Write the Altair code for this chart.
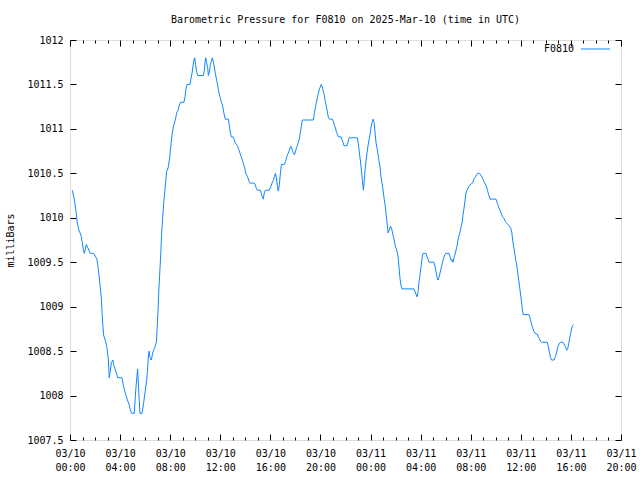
import altair as alt
import pandas as pd

# minutes since 2025-03-10 00:00 UTC
minutes = [11, 21, 29, 35, 43, 53, 59, 64, 69, 78, 86, 97, 114, 123, 129, 134, 140, 145, 150, 153,
           157, 161, 169, 177, 184, 188, 193, 198, 205, 210, 217, 229, 249, 257, 265, 275, 283, 289,
           296, 308, 315, 320, 324, 329, 335, 345, 353, 359, 366, 371, 375, 379, 383, 390, 396, 406,
           414, 417, 422, 426, 435, 439, 444, 449, 454, 459, 463, 470, 476, 481, 485, 490, 495, 502,
           507, 511, 518, 524, 530, 546, 551, 556, 561, 575, 580, 585, 589, 594, 598, 602, 607, 612,
           639, 644, 647, 650, 655, 660, 663, 668, 672, 677, 682, 687, 691, 696, 701, 706, 711, 716,
           720, 725, 730, 735, 739, 744, 759, 763, 768, 773, 782, 787, 792, 799, 804, 808, 813, 818,
           823, 828, 832, 837, 842, 847, 851, 858, 862, 882, 888, 893, 898, 912, 917, 922, 926, 931,
           936, 955, 962, 968, 974, 979, 984, 989, 994, 998, 1003, 1008, 1013, 1027, 1032, 1036, 1041,
           1046, 1051, 1056, 1060, 1065, 1070, 1075, 1080, 1084, 1089, 1094, 1099, 1103, 1108, 1113,
           1166, 1171, 1175, 1180, 1185, 1190, 1195, 1199, 1204, 1209, 1214, 1219, 1223, 1228, 1233,
           1238, 1243, 1257, 1262, 1267, 1272, 1276, 1281, 1286, 1299, 1303, 1308, 1313, 1327, 1332,
           1337, 1377, 1381, 1386, 1391, 1396, 1401, 1406, 1409, 1414, 1419, 1423, 1428, 1433, 1438,
           1442, 1447, 1452, 1457, 1462, 1466, 1471, 1476, 1481, 1486, 1490, 1495, 1500, 1505, 1510,
           1514, 1519, 1524, 1529, 1534, 1538, 1543, 1548, 1553, 1558, 1562, 1567, 1572, 1577, 1581,
           1586, 1590, 1648, 1653, 1658, 1663, 1668, 1672, 1677, 1682, 1687, 1692, 1706, 1711, 1720,
           1744, 1749, 1754, 1759, 1763, 1768, 1773, 1778, 1783, 1787, 1792, 1797, 1802, 1816, 1821,
           1826, 1831, 1835, 1840, 1845, 1850, 1855, 1859, 1864, 1869, 1874, 1879, 1883, 1888, 1893,
           1898, 1904, 1911, 1917, 1923, 1930, 1936, 1943, 1949, 1955, 1962, 1968, 1974, 1981, 1987,
           1994, 2000, 2006, 2013, 2041, 2048, 2054, 2061, 2067, 2073, 2080, 2086, 2093, 2099, 2105,
           2112, 2117, 2121, 2126, 2131, 2136, 2141, 2145, 2150, 2156, 2161, 2166, 2171, 2200, 2204,
           2209, 2214, 2219, 2223, 2228, 2239, 2244, 2249, 2254, 2259, 2287, 2292, 2297, 2302, 2307,
           2319, 2326, 2332, 2338, 2345, 2351, 2361, 2367, 2374, 2380, 2385, 2390, 2394, 2399, 2404,
           2409, 2412]

pressure = [1010.31, 1010.2, 1010.07, 1009.94, 1009.86, 1009.8, 1009.72, 1009.64, 1009.6, 1009.7,
            1009.66, 1009.6, 1009.6, 1009.56, 1009.53, 1009.45, 1009.33, 1009.22, 1009.1, 1008.96,
            1008.8, 1008.68, 1008.62, 1008.54, 1008.4, 1008.2, 1008.27, 1008.37, 1008.4, 1008.34,
            1008.29, 1008.2, 1008.2, 1008.1, 1008.03, 1007.95, 1007.9, 1007.84, 1007.8, 1007.8,
            1008.06, 1008.2, 1008.3, 1008.06, 1007.8, 1007.8, 1007.92, 1008.03, 1008.14, 1008.27,
            1008.42, 1008.5, 1008.43, 1008.4, 1008.48, 1008.54, 1008.6, 1008.74, 1008.96, 1009.2,
            1009.6, 1009.82, 1010.0, 1010.17, 1010.29, 1010.42, 1010.52, 1010.56, 1010.65, 1010.76,
            1010.85, 1010.95, 1011.02, 1011.08, 1011.13, 1011.18, 1011.21, 1011.27, 1011.3, 1011.3,
            1011.36, 1011.46, 1011.5, 1011.5, 1011.57, 1011.63, 1011.7, 1011.78, 1011.8, 1011.72,
            1011.64, 1011.6, 1011.6, 1011.66, 1011.75, 1011.8, 1011.74, 1011.68, 1011.6, 1011.64,
            1011.72, 1011.76, 1011.8, 1011.75, 1011.7, 1011.63, 1011.57, 1011.51, 1011.44, 1011.38,
            1011.35, 1011.3, 1011.27, 1011.21, 1011.16, 1011.11, 1011.11, 1011.04, 1010.96, 1010.91,
            1010.91, 1010.88, 1010.84, 1010.82, 1010.8, 1010.77, 1010.74, 1010.7, 1010.67, 1010.63,
            1010.6, 1010.56, 1010.5, 1010.48, 1010.46, 1010.41, 1010.39, 1010.39, 1010.37, 1010.33,
            1010.31, 1010.31, 1010.27, 1010.23, 1010.21, 1010.28, 1010.31, 1010.31, 1010.35, 1010.39,
            1010.42, 1010.46, 1010.5, 1010.45, 1010.35, 1010.3, 1010.37, 1010.5, 1010.6, 1010.6,
            1010.63, 1010.66, 1010.7, 1010.73, 1010.76, 1010.8, 1010.8, 1010.76, 1010.73, 1010.71,
            1010.74, 1010.78, 1010.81, 1010.85, 1010.89, 1010.95, 1011.02, 1011.1, 1011.1, 1011.18,
            1011.23, 1011.29, 1011.35, 1011.4, 1011.45, 1011.47, 1011.5, 1011.47, 1011.42, 1011.37,
            1011.31, 1011.26, 1011.19, 1011.13, 1011.11, 1011.11, 1011.08, 1011.04, 1011.01, 1010.97,
            1010.94, 1010.91, 1010.91, 1010.88, 1010.85, 1010.81, 1010.81, 1010.85, 1010.9, 1010.9,
            1010.84, 1010.74, 1010.65, 1010.54, 1010.42, 1010.31, 1010.39, 1010.54, 1010.65, 1010.73,
            1010.81, 1010.88, 1010.95, 1011.01, 1011.07, 1011.11, 1011.07, 1010.95, 1010.85, 1010.78,
            1010.71, 1010.63, 1010.56, 1010.46, 1010.39, 1010.31, 1010.22, 1010.14, 1010.05, 1009.95,
            1009.83, 1009.86, 1009.9, 1009.9, 1009.86, 1009.8, 1009.75, 1009.69, 1009.66, 1009.62,
            1009.56, 1009.43, 1009.32, 1009.24, 1009.2, 1009.2, 1009.17, 1009.14, 1009.11, 1009.17,
            1009.27, 1009.36, 1009.45, 1009.55, 1009.6, 1009.6, 1009.56, 1009.5, 1009.5, 1009.45,
            1009.39, 1009.33, 1009.3, 1009.33, 1009.38, 1009.43, 1009.48, 1009.52, 1009.56, 1009.59,
            1009.6, 1009.6, 1009.56, 1009.52, 1009.53, 1009.5, 1009.55, 1009.59, 1009.64, 1009.69,
            1009.75, 1009.8, 1009.84, 1009.9, 1009.95, 1010.03, 1010.11, 1010.2, 1010.29, 1010.32,
            1010.35, 1010.37, 1010.38, 1010.4, 1010.44, 1010.46, 1010.49, 1010.5, 1010.5, 1010.48,
            1010.46, 1010.42, 1010.39, 1010.36, 1010.31, 1010.26, 1010.21, 1010.21, 1010.16, 1010.12,
            1010.08, 1010.04, 1010.01, 1009.99, 1009.96, 1009.94, 1009.92, 1009.91, 1009.88, 1009.83,
            1009.75, 1009.67, 1009.6, 1009.52, 1009.46, 1009.38, 1009.3, 1009.19, 1009.1, 1009.0,
            1008.91, 1008.91, 1008.87, 1008.83, 1008.78, 1008.75, 1008.72, 1008.7, 1008.69, 1008.66,
            1008.64, 1008.61, 1008.6, 1008.6, 1008.55, 1008.49, 1008.43, 1008.4, 1008.4, 1008.44,
            1008.49, 1008.55, 1008.59, 1008.6, 1008.6, 1008.58, 1008.55, 1008.51, 1008.53, 1008.59,
            1008.65, 1008.7, 1008.76, 1008.79, 1008.8]

station = "F0810"
title_text = "Barometric Pressure for F0810 on 2025-Mar-10 (time in UTC)"
y_title = "milliBars"

x_major = list(range(0, 2641, 240))
x_minor = [m for m in range(0, 2641, 60) if m % 240 != 0]
y_major = [1007.5 + 0.5 * i for i in range(10)]

FONT = "DejaVu Sans Mono"
LINE_COLOR = "#0f87ff"

df = pd.DataFrame({"minutes": minutes, "pressure": pressure, "station": station})
key_df = pd.DataFrame({"station": [station]})

x_scale = alt.Scale(domain=[0, 2640], nice=False, zero=False)
y_scale = alt.Scale(domain=[1007.5, 1012], nice=False, zero=False)
color_scale = alt.Scale(domain=[station], range=[LINE_COLOR])

x_label_expr = ("['03/' + (10 + floor(datum.value / 1440)), "
                "format(floor((datum.value % 1440) / 60), '02d') + ':00']")

base = alt.Chart(df)

line = base.mark_line(strokeWidth=1, interpolate="linear").encode(
    x=alt.X("minutes:Q", scale=x_scale,
            axis=alt.Axis(orient="bottom", values=x_major, ticks=False, domain=False, grid=False,
                          labelExpr=x_label_expr, labelFont=FONT, labelFontSize=10,
                          labelColor="black", labelPadding=8, labelLineHeight=14,
                          labelFlush=False, labelOverlap=False, title=None)),
    y=alt.Y("pressure:Q", scale=y_scale,
            axis=alt.Axis(orient="left", values=y_major, ticks=False, domain=False, grid=False,
                          format="~f", labelFont=FONT, labelFontSize=10, labelColor="black",
                          labelPadding=7, labelFlush=False, labelOverlap=False,
                          title=y_title, titleFont=FONT, titleFontSize=10,
                          titleFontWeight="normal", titleColor="black",
                          titleX=-60, titleY=200, titleAngle=270, titleAlign="center",
                          titleBaseline="middle")),
    color=alt.Color("station:N", scale=color_scale, legend=None),
)

# key (gnuplot style: label on the left, sample line on the right)
key_text = alt.Chart(key_df).mark_text(
    align="right", baseline="middle", font=FONT, fontSize=10, color="black"
).encode(text="station:N", x=alt.value(504), y=alt.value(9))

key_line = alt.Chart(key_df).mark_rule(strokeWidth=1).encode(
    x=alt.value(511), x2=alt.value(540), y=alt.value(9),
    color=alt.Color("station:N", scale=color_scale, legend=None),
)


def tick_axis(orient, values, size):
    return alt.Axis(orient=orient, values=values, labels=False, domain=False, grid=False,
                    ticks=True, tickSize=size, offset=-size, tickColor="black",
                    tickWidth=1, title=None)


def tick_layer(xaxis, yaxis):
    return base.mark_point(opacity=0).encode(
        x=alt.X("minutes:Q", scale=x_scale, axis=xaxis),
        y=alt.Y("pressure:Q", scale=y_scale, axis=yaxis),
    )


layers = [
    line,
    tick_layer(tick_axis("bottom", x_major, 6), tick_axis("left", y_major, 6)),
    tick_layer(tick_axis("bottom", x_minor, 3), tick_axis("right", y_major, 6)),
    tick_layer(tick_axis("top", x_major, 6), None),
    tick_layer(tick_axis("top", x_minor, 3), None),
    key_text,
    key_line,
]

chart = alt.layer(*layers).resolve_axis(x="independent", y="independent").properties(
    width=551, height=400,
    padding={"left": 70, "top": 40, "right": 19, "bottom": 40},
    autosize=alt.AutoSizeParams(type="none"),
    title=alt.TitleParams(title_text, font=FONT, fontSize=10, fontWeight="normal",
                          anchor="middle", offset=10, color="black"),
).configure_view(stroke="black", strokeWidth=1).configure(background="white")

chart.save("out.html", embed_options={"renderer": "svg", "actions": False})
